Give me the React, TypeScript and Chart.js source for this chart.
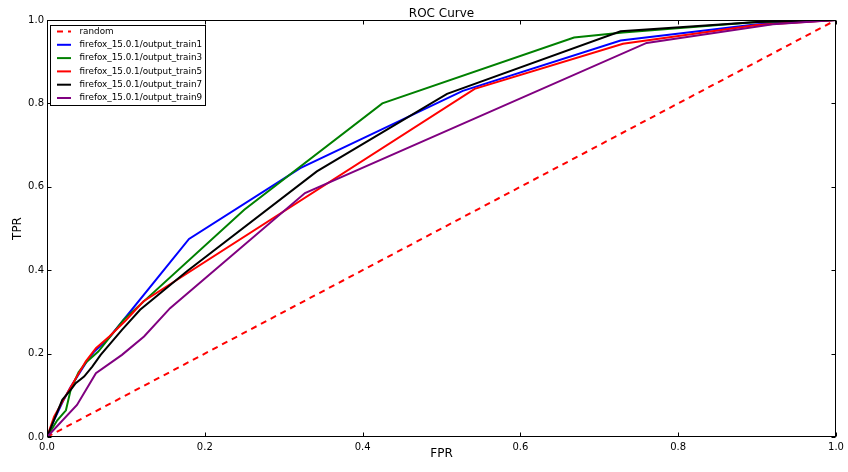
import React, { useEffect, useRef } from "react";
import { Chart, registerables } from "chart.js";

Chart.register(...registerables);

const TITLE = "ROC Curve";
const X_LABEL = "FPR";
const Y_LABEL = "TPR";
const TICKS = [0, 0.2, 0.4, 0.6, 0.8, 1.0];

const SERIES_NAMES = [
  "random",
  "firefox_15.0.1/output_train1",
  "firefox_15.0.1/output_train3",
  "firefox_15.0.1/output_train5",
  "firefox_15.0.1/output_train7",
  "firefox_15.0.1/output_train9",
];
const SERIES_COLORS = ["#ff0000", "#0000ff", "#008000", "#ff0000", "#000000", "#800080"];

const randomFPR = [0, 1];
const randomTPR = [0, 1];

const train1FPR = [0, 0.01, 0.02, 0.03, 0.05, 0.06, 0.08, 0.18, 0.321, 0.527, 0.727, 0.9, 1.0];
const train1TPR = [0, 0.045, 0.085, 0.12, 0.18, 0.205, 0.241, 0.475, 0.645, 0.83, 0.951, 0.99, 1.0];

const train3FPR = [0, 0.013, 0.024, 0.03, 0.04, 0.05, 0.065, 0.097, 0.25, 0.425, 0.668, 0.73, 0.9, 1.0];
const train3TPR = [0, 0.04, 0.064, 0.113, 0.155, 0.18, 0.205, 0.281, 0.545, 0.8, 0.958, 0.97, 0.995, 1.0];

const train5FPR = [0, 0.009, 0.028, 0.049, 0.062, 0.079, 0.1, 0.122, 0.542, 0.73, 0.9, 1.0];
const train5TPR = [0, 0.049, 0.113, 0.181, 0.213, 0.241, 0.28, 0.325, 0.835, 0.943, 0.988, 1.0];

const train7FPR = [0, 0.0194, 0.03, 0.0364, 0.047, 0.0574, 0.068, 0.095, 0.118, 0.177, 0.342, 0.507, 0.727, 0.9, 1.0];
const train7TPR = [0, 0.089, 0.113, 0.129, 0.145, 0.169, 0.197, 0.257, 0.305, 0.397, 0.637, 0.823, 0.973, 0.995, 1.0];

const train9FPR = [0, 0.038, 0.062, 0.095, 0.123, 0.156, 0.327, 0.76, 0.92, 1.0];
const train9TPR = [0, 0.077, 0.153, 0.197, 0.241, 0.309, 0.585, 0.945, 0.99, 1.0];

const ALL_FPR = [randomFPR, train1FPR, train3FPR, train5FPR, train7FPR, train9FPR];
const ALL_TPR = [randomTPR, train1TPR, train3TPR, train5TPR, train7TPR, train9TPR];

const FONT = "'DejaVu Sans', sans-serif";
const DASH = [6, 5];

const decorPlugin = {
  id: "decor",
  afterDraw(chart: any) {
    const ctx = chart.ctx as CanvasRenderingContext2D;
    const { left, right, top, bottom } = chart.chartArea;
    const xs = chart.scales.x;
    const ys = chart.scales.y;
    ctx.save();
    ctx.strokeStyle = "#000";
    ctx.lineWidth = 1;
    ctx.setLineDash([]);
    const L = Math.round(left) + 0.5;
    const R = Math.round(right) - 0.5;
    const T = Math.round(top) + 0.5;
    const B = Math.round(bottom) - 0.5;
    ctx.strokeRect(L, T, R - L, B - T);
    const tl = 4;
    ctx.beginPath();
    TICKS.forEach((v) => {
      const px = Math.round(xs.getPixelForValue(v)) + 0.5;
      ctx.moveTo(px, B);
      ctx.lineTo(px, B - tl);
      ctx.moveTo(px, T);
      ctx.lineTo(px, T + tl);
      const py = Math.round(ys.getPixelForValue(v)) + 0.5;
      ctx.moveTo(L, py);
      ctx.lineTo(L + tl, py);
      ctx.moveTo(R, py);
      ctx.lineTo(R - tl, py);
    });
    ctx.stroke();

    // titles
    ctx.fillStyle = "#000";
    ctx.font = `12px ${FONT}`;
    ctx.textAlign = "center";
    ctx.textBaseline = "alphabetic";
    ctx.fillText(TITLE, (left + right) / 2, 16.5);
    ctx.fillText(X_LABEL, (left + right) / 2, 457);
    ctx.save();
    ctx.translate(20.5, (top + bottom) / 2);
    ctx.rotate(-Math.PI / 2);
    ctx.fillText(Y_LABEL, 0, 0);
    ctx.restore();

    // legend
    const bx = 50.5, by = 25.5, bw = 155, bh = 80;
    ctx.fillStyle = "#fff";
    ctx.fillRect(bx, by, bw, bh);
    ctx.strokeStyle = "#000";
    ctx.lineWidth = 1;
    ctx.strokeRect(bx, by, bw, bh);
    ctx.font = `8.8px ${FONT}`;
    ctx.textAlign = "left";
    ctx.textBaseline = "middle";
    SERIES_NAMES.forEach((name, i) => {
      const y = 31.5 + i * 13.3;
      ctx.strokeStyle = SERIES_COLORS[i];
      ctx.lineWidth = 2;
      ctx.setLineDash(i === 0 ? DASH : []);
      ctx.beginPath();
      ctx.moveTo(57, y);
      ctx.lineTo(71, y);
      ctx.stroke();
      ctx.setLineDash([]);
      ctx.fillStyle = "#000";
      ctx.fillText(name, 79.5, y);
    });
    ctx.restore();
  },
};

export default function App() {
  const ref = useRef<HTMLCanvasElement | null>(null);
  useEffect(() => {
    if (!ref.current) return;
    const datasets = SERIES_NAMES.map((name, i) => ({
      label: name,
      data: ALL_FPR[i].map((x, j) => ({ x, y: ALL_TPR[i][j] })),
      borderColor: SERIES_COLORS[i],
      backgroundColor: SERIES_COLORS[i],
      borderWidth: 2,
      borderDash: i === 0 ? DASH : [],
      pointRadius: 0,
      tension: 0,
      fill: false,
      order: SERIES_NAMES.length - i,
    }));
    const chart = new Chart(ref.current, {
      type: "line",
      data: { datasets },
      options: {
        animation: false,
        responsive: false,
        devicePixelRatio: 1,
        parsing: true,
        layout: { padding: { top: 20, right: 12, left: 0, bottom: 0 } },
        plugins: { legend: { display: false }, tooltip: { enabled: false }, title: { display: false } },
        scales: {
          x: {
            type: "linear",
            min: 0,
            max: 1,
            grid: { display: false, drawTicks: false },
            border: { display: false },
            ticks: {
              stepSize: 0.2,
              padding: 4,
              color: "#000",
              font: { family: FONT, size: 10 },
              maxRotation: 0,
              callback: (v: any) => Number(v).toFixed(1),
            },
            afterFit: (s: any) => { s.height = 35; },
          },
          y: {
            type: "linear",
            min: 0,
            max: 1,
            grid: { display: false, drawTicks: false },
            border: { display: false },
            ticks: {
              stepSize: 0.2,
              padding: 3,
              color: "#000",
              font: { family: FONT, size: 10 },
              callback: (v: any) => Number(v).toFixed(1),
            },
            afterFit: (s: any) => { s.width = 47; },
          },
        },
      },
      plugins: [decorPlugin],
    });
    return () => chart.destroy();
  }, []);
  return (
    <div style={{ position: "absolute", left: 0, top: 0, width: 848, height: 472, background: "#fff" }}>
      <canvas ref={ref} width={848} height={472} style={{ width: 848, height: 472, display: "block" }} />
    </div>
  );
}
